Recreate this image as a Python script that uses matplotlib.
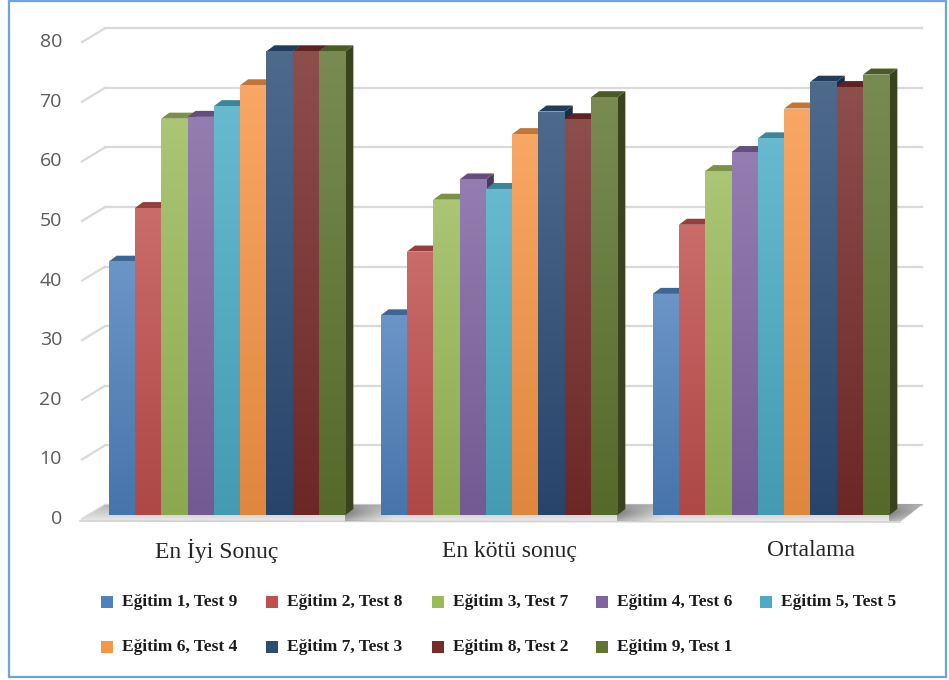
import numpy as np
import matplotlib
matplotlib.use("Agg")
import matplotlib.pyplot as plt
from matplotlib.colors import to_rgb
from matplotlib.patches import Polygon, Rectangle

# --- data -------------------------------------------------------------------
categories = ["En İyi Sonuç", "En kötü sonuç", "Ortalama"]
series_names = [
    "Eğitim 1, Test 9", "Eğitim 2, Test 8", "Eğitim 3, Test 7",
    "Eğitim 4, Test 6", "Eğitim 5, Test 5", "Eğitim 6, Test 4",
    "Eğitim 7, Test 3", "Eğitim 8, Test 2", "Eğitim 9, Test 1",
]
best_scores = [42.5, 51.5, 66.5, 66.8, 68.6, 72.1, 77.8, 77.8, 77.8]
worst_scores = [33.5, 44.2, 52.9, 56.3, 54.7, 63.9, 67.7, 66.4, 70.1]
mean_scores = [37.1, 48.7, 57.7, 60.9, 63.2, 68.2, 72.7, 71.8, 73.9]
y_ticks = [0, 10, 20, 30, 40, 50, 60, 70, 80]

colors = ["#4F81BD", "#C0504D", "#9BBB59", "#8064A2", "#4BACC6",
          "#F79646", "#2C4D75", "#772C2A", "#5F7530"]

# --- layout (pixel grid of a 949x680 canvas) ---------------------------------
W, H = 949, 680
X0_PX, GROUP_PX = 227, 272      # centre of first group, distance between groups
Y0_PX, UNIT_PX = 515, 5.96      # baseline of the bar plane, pixels per unit
BAR_W = 26.3 / GROUP_PX
DEPTH = (8, 6)                  # bar depth (px right, px up)
BACK = (16, 10)                 # back wall offset from bar plane
FRONT = (-7, -4)                # tick plane offset from bar plane
label_nudge_px = [-10, 10, 40]


def px_x(p):
    return (p - X0_PX) / GROUP_PX


def px_y(p):
    return (Y0_PX - p) / UNIT_PX


def dx(p):
    return p / GROUP_PX


def dy(p):
    return p / UNIT_PX


def shade(c, f):
    r = np.array(to_rgb(c))
    return tuple(r + (1 - r) * f) if f > 0 else tuple(r * (1 + f))


fig = plt.figure(figsize=(W / 100, H / 100), dpi=100)
ax = fig.add_axes([0, 0, 1, 1])
ax.set_xlim(px_x(0), px_x(W))
ax.set_ylim(px_y(H), px_y(0))
ax.axis("off")

# back wall gridlines and left wall diagonals
for v in y_ticks:
    yb = v + dy(BACK[1])
    yf = v + dy(FRONT[1])
    ax.plot([px_x(105), px_x(922)], [yb, yb], color="#d9d9d9", lw=1.6, zorder=1)
    ax.plot([px_x(82), px_x(105)], [yf, yb], color="#d9d9d9", lw=1.6, zorder=1)
    ax.text(px_x(62), yf, str(v), ha="right", va="center", fontsize=14,
            family="Open Sans", color="#595959")

# floor slab
floor_xy = [(px_x(80), px_y(521)), (px_x(900), px_y(522)),
            (px_x(923), px_y(504)), (px_x(105), px_y(505))]
floor = Polygon(floor_xy, closed=True, facecolor="none", lw=0, zorder=2)
ax.add_patch(floor)
fb, ff = np.array(to_rgb("#b4b4b4")), np.array(to_rgb("#ededed"))
fgrad = fb + np.linspace(0, 1, 64)[:, None, None] * (ff - fb)
img = ax.imshow(fgrad, extent=(px_x(80), px_x(923), px_y(522), px_y(504)),
                origin="upper", aspect="auto", interpolation="bicubic", zorder=2)
img.set_clip_path(floor)
ax.plot([px_x(80), px_x(900)], [px_y(521), px_y(522)], color="#d2d2d2", lw=1.2, zorder=2.1)

# groups of 3-D columns
groups = [best_scores, worst_scores, mean_scores]
for g, values in enumerate(groups):
    left0 = g - 4.5 * BAR_W
    right_end = left0 + 9 * BAR_W
    # soft shadow trailing to the right of the group
    sh = np.zeros((8, 64, 4))
    sh[..., :3] = 0.3
    fade = np.linspace(0.7, 0.0, 64)[None, :] ** 1.3
    vert = np.concatenate([np.linspace(0.5, 1, 4), np.linspace(1, 0.6, 4)])[:, None]
    sh[..., 3] = fade * vert
    simg = ax.imshow(sh, extent=(right_end, right_end + dx(50), px_y(521), px_y(504)),
                     origin="upper", aspect="auto", interpolation="bicubic", zorder=2.2)
    simg.set_clip_path(floor)
    for i, v in enumerate(values):
        z = 3 + i * 0.01
        xl = left0 + i * BAR_W
        xr = xl + BAR_W
        ddx, ddy = dx(DEPTH[0]), dy(DEPTH[1])
        c = colors[i]
        side = Polygon([(xr, 0), (xr + ddx, ddy), (xr + ddx, v + ddy), (xr, v)],
                       closed=True, facecolor=shade(c, -0.42), lw=0, zorder=z)
        top = Polygon([(xl, v), (xr, v), (xr + ddx, v + ddy), (xl + ddx, v + ddy)],
                      closed=True, facecolor=shade(c, -0.22), lw=0, zorder=z)
        ax.add_patch(side)
        ax.add_patch(top)
        front = Rectangle((xl, 0), BAR_W, v, facecolor="none", lw=0, zorder=z + 0.005)
        ax.add_patch(front)
        c_top = np.array(shade(c, 0.16))
        c_bot = np.array(shade(c, -0.1))
        grad = c_top + np.linspace(0, 1, 64)[:, None, None] * (c_bot - c_top)
        bimg = ax.imshow(grad, extent=(xl, xr, 0, v), origin="upper", aspect="auto",
                         interpolation="bicubic", zorder=z + 0.005)
        bimg.set_clip_path(front)

    ax.text(g + dx(label_nudge_px[g]), px_y(551), categories[g], ha="center",
            va="center", fontsize=17, family="Liberation Serif", color="#262626")

# legend, two rows laid out on a fixed column pitch
legend_cols = [101, 266, 432, 596, 760]
legend_rows = [602, 647]
for k, name in enumerate(series_names):
    row, col = divmod(k, 5)
    x, y = legend_cols[col], legend_rows[row]
    ax.add_patch(Rectangle((px_x(x), px_y(y + 6)), dx(12), dy(12),
                           facecolor=colors[k], lw=0, zorder=5))
    ax.text(px_x(x + 21), px_y(y), name, ha="left", va="center", fontsize=12.5,
            family="Liberation Serif", weight="bold", color="#1a1a1a")

# outer frame
ax.add_patch(Rectangle((px_x(9), px_y(677)), dx(937), dy(676), facecolor="none",
                       edgecolor="#6fa3dc", lw=1.6, zorder=6))

ax.set_xlim(px_x(0), px_x(W))
ax.set_ylim(px_y(H), px_y(0))
fig.savefig("out.png", dpi=100)
